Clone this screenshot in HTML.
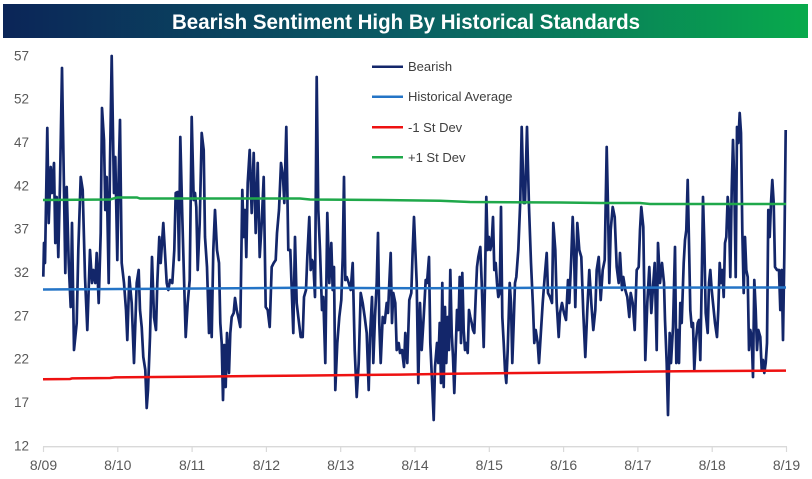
<!DOCTYPE html>
<html>
<head>
<meta charset="utf-8">
<style>
html,body{margin:0;padding:0;background:#fff;}
body{width:812px;height:479px;overflow:hidden;}
svg{display:block;font-family:"Liberation Sans",sans-serif;}
</style>
</head>
<body>
<svg width="812" height="479" viewBox="0 0 812 479" xmlns="http://www.w3.org/2000/svg">
  <defs>
    <linearGradient id="tg" x1="0" y1="0" x2="1" y2="0">
      <stop offset="0" stop-color="#0b2558"/>
      <stop offset="0.5" stop-color="#0a5d64"/>
      <stop offset="1" stop-color="#08aa4c"/>
    </linearGradient>
  </defs>
  <rect x="0" y="0" width="812" height="479" fill="#ffffff"/>
  <!-- Title bar -->
  <rect x="3" y="4" width="805" height="34" fill="url(#tg)"/>
  <text x="406" y="29" text-anchor="middle" font-size="21" font-weight="bold" fill="#ffffff" textLength="468" lengthAdjust="spacingAndGlyphs">Bearish Sentiment High By Historical Standards</text>

  <!-- Y axis labels -->
  <g font-size="13.5" fill="#595959" text-anchor="end">
    <text x="29" y="60.4">57</text>
    <text x="29" y="103.7">52</text>
    <text x="29" y="147">47</text>
    <text x="29" y="190.4">42</text>
    <text x="29" y="233.7">37</text>
    <text x="29" y="277">32</text>
    <text x="29" y="320.4">27</text>
    <text x="29" y="363.7">22</text>
    <text x="29" y="407">17</text>
    <text x="29" y="450.4">12</text>
  </g>

  <!-- X axis -->
  <line x1="43" y1="446.7" x2="787" y2="446.7" stroke="#d9d9d9" stroke-width="1.3"/>
  <g stroke="#d9d9d9" stroke-width="1.2">
    <line x1="43.5" y1="446.7" x2="43.5" y2="452"/>
    <line x1="117.8" y1="446.7" x2="117.8" y2="452"/>
    <line x1="192.1" y1="446.7" x2="192.1" y2="452"/>
    <line x1="266.4" y1="446.7" x2="266.4" y2="452"/>
    <line x1="340.7" y1="446.7" x2="340.7" y2="452"/>
    <line x1="415" y1="446.7" x2="415" y2="452"/>
    <line x1="489.3" y1="446.7" x2="489.3" y2="452"/>
    <line x1="563.6" y1="446.7" x2="563.6" y2="452"/>
    <line x1="637.9" y1="446.7" x2="637.9" y2="452"/>
    <line x1="712.2" y1="446.7" x2="712.2" y2="452"/>
    <line x1="786.5" y1="446.7" x2="786.5" y2="452"/>
  </g>
  <g font-size="14" fill="#595959" text-anchor="middle">
    <text x="43.5" y="470">8/09</text>
    <text x="117.8" y="470">8/10</text>
    <text x="192.1" y="470">8/11</text>
    <text x="266.4" y="470">8/12</text>
    <text x="340.7" y="470">8/13</text>
    <text x="415" y="470">8/14</text>
    <text x="489.3" y="470">8/15</text>
    <text x="563.6" y="470">8/16</text>
    <text x="637.9" y="470">8/17</text>
    <text x="712.2" y="470">8/18</text>
    <text x="786.5" y="470">8/19</text>
  </g>

  <!-- Bearish series -->
  <polyline fill="none" stroke="#13266a" stroke-width="2.7" stroke-linejoin="round" points="
43.3,276.7 44,243 45,263 47.3,128 48.7,223 50.7,167 52,193 54,163 55.3,243 56.7,197 58.3,257 60,183 62,68 64,190 65.3,273 66.7,187 68.7,263 70.7,307 72,223 74,350 76.7,323 78.3,250 80.7,177 82.7,190 85,277 87.3,330 90,250 92,283 93.3,270 95.3,283 96.7,253 98.7,303 100.7,233 102,108 104,140 105.3,210 106.7,177 108.7,283 110,163 111.7,56 114,193 115.3,157 117.3,260 118.7,173 120,120 121.7,263 124,283 126,310 127.3,340 129.3,277 131.7,303 134,363 136.7,283 138.7,270 140,310 141.7,327 143.3,357 145.3,370 146.7,408 148,390 150,337 152,257 154,317 156,330 157.3,283 159.3,237 160.7,263 163.3,223
166.7,283 168.3,290 170,280 172.3,283 174.3,250 175.7,193 177.7,192 179,260 180.3,137 182.3,217 183.7,267 185.7,337 187.7,303 189.7,280 191.7,117 193.7,200 195,193 196.3,207 197.7,270 199.7,223 201.7,133 203.7,150 205,237 207,267 209,333 210.3,290 211.7,337 213.3,250 215,210 217,250 219,263 220.3,323 221.7,343 223,400 224.3,345 225.7,387 227,333 229,373 230.3,333 231.7,317 233.7,313 235,298 236.7,310 238.3,317 240.3,327 242.3,190 243.7,237 245,210 246.3,257 247.7,183 249.7,150 251.7,213 253.7,153 255.7,233 257.7,163 259.7,257 261.7,223 263.7,177 265.7,307 267.7,310 269.7,327 271.7,267 273.7,263 275.7,260 277,233 279,210 281,163 283,177 284.3,203 286.3,127 288.3,250 290.3,250
293.3,333 295,237 296.7,303 298.3,317 300.7,337 302.7,337 304,297 306,290 307.3,257 309.3,217 310.7,270 312,260 313.3,263 315,297 316.7,77 318.3,210 320,250 322,310 323.3,297 325.3,363 327.3,213 329.3,283 331.3,243 332.7,290 334,267 335.3,390 337.3,343 339.3,317 341.3,300 342.7,257 344,177 345.3,280 346.7,277 348.7,283 350.7,290 352.7,263 354.7,350 356.7,397 358.7,363 360.7,293 362.7,303 364.7,317 366.7,333 368.7,390 370,337 372,297 373.3,363 375,317 376.7,283 378,233 379.3,323 380.7,363 382.7,317 384.7,323 386.7,303 388,313 389.3,283 390.7,253 392,323 393.3,293 395.3,303 396.7,350 398.7,343 400,353 402,350 404,367 405.3,333 407.3,363 409.3,300 411.3,293 412.7,250 414,217
416.7,283 418.3,383 420,303 421.7,350 423.7,317 425.7,280 427,283 429,257 430.3,343 432.3,387 433.7,420 435,367 437,343 438.3,363 439.7,323 441,383 442.3,283 443.7,387 445,307 446.3,363 447.7,317 449,350 450.3,270 451.7,333 453,357 454.3,393 455.7,350 457,310 458.3,330 459.7,277 461,343 462.3,273 463.7,330 465,350 466.3,343 467.7,353 469,310 470.3,317 471.7,323 473,330 474.3,333 475.7,297 477,267 478.3,257 480.3,247 481.7,283 483.7,347 485,283 486.3,197 487.7,250 489,237 490.3,250 491.7,243 493,217 494.3,270 495.7,263 497,283 498.3,297 499.7,293 501,207 502.3,317 503.7,343 505,370 506.3,383 507.7,350 509.7,283 511,303 512.3,363 513.7,323 515,283 516.3,277 518.3,250 520.3,200 521.7,127 523.7,203 525,203 527,127 529,207 531,263 533,307 534.3,343 535.7,330 537.7,343 539,363
542.7,303 544.7,277 546.7,253 548,293 550,297 552,303 553.3,223 555.3,250 556.7,303 558.7,337 560,313 562,303 564,313 566,320 568,280 569.3,303 571.3,257 572.7,217 574,250 575.3,307 577.3,223 579.3,250 581.3,257 583.3,313 585.3,357 587.3,310 589.3,270 591.3,303 593.3,330 595.3,310 596.7,270 598.7,257 600.7,300 602.7,270 604.7,260 606.7,147 608,207 609.3,283 610.7,230 612.7,207 614.7,217 616.7,267 618.7,283 620,253 622,290 623.3,277 625.3,290 627.3,297 629.3,317 630.7,293 632.7,303 634.7,330 636.7,270 638.7,267 640,230 641.3,207 643.3,227 645.3,360 647.3,303 649.3,267 651.3,313 653.3,283 654.7,263 656.7,350 658,243 660,283 662,263 664,283
665,320 666.7,363 668,415 669.7,333 671,363 673,327 675,247 676.3,363 677.7,330 679,363 680.3,303 681.7,323 683.7,263 685,240 686.3,230 687.7,180 689,243 690.3,310 691.7,327 693,323 694.3,370 695.7,343 697.7,323 699,320 700.3,360 701.7,283 703,197 704.3,243 705.7,313 707.7,333 709,283 710.3,270 711.7,290 713.7,310 715,323 717,337 718.3,310 719.7,263 721,283 722.3,270 723.7,297 725,243 726.3,237 727.7,197 729,213 730.3,277 731.7,190 733,140 734.3,183 735.7,277 737,127 738.3,143 739.7,113 741,133 742.3,230 743.7,293 745,237 746.3,270 747.7,277 749,350 750.3,330 751.7,337 753,377 754.3,280 755.7,310 757,350 758.3,330 760.3,337 761.7,370 763,360 764.3,373 765.7,363 767,343 768.3,210 769.7,237 771,203 772.3,180 773.7,203 775,267 777,270 779,270 780.3,310 781.7,270 783,340 784.3,257 785.7,130"/>

  <!-- Reference lines -->
  <polyline fill="none" stroke="#1fa84a" stroke-width="2.5" points="43,200 110,199.5 117,197.5 137,197.5 140,198.5 300,198.5 310,199.5 400,200.2 440,200.8 470,202 560,202.5 600,203 640,203 650,204 786,204"/>
  <polyline fill="none" stroke="#2474c6" stroke-width="2.5" points="43,289.5 120,289 200,288.5 300,287.8 420,288.2 500,288 560,287.6 786,287.5"/>
  <polyline fill="none" stroke="#ee1111" stroke-width="2.5" points="43,379.2 70,379 72,378.4 110,378 115,377.4 200,376.6 300,375.6 400,374.6 460,373.6 560,372.6 600,372.2 680,371.2 786,370.6"/>

  <!-- Legend -->
  <g stroke-width="2.5">
    <line x1="372" y1="66.7" x2="403" y2="66.7" stroke="#13266a"/>
    <line x1="372" y1="96.7" x2="403" y2="96.7" stroke="#2474c6"/>
    <line x1="372" y1="127.3" x2="403" y2="127.3" stroke="#ee1111"/>
    <line x1="372" y1="157.3" x2="403" y2="157.3" stroke="#1fa84a"/>
  </g>
  <g font-size="13" fill="#404040">
    <text x="408" y="71.2">Bearish</text>
    <text x="408" y="101.2">Historical Average</text>
    <text x="408" y="131.8">-1 St Dev</text>
    <text x="408" y="161.8">+1 St Dev</text>
  </g>
</svg>
</body>
</html>
